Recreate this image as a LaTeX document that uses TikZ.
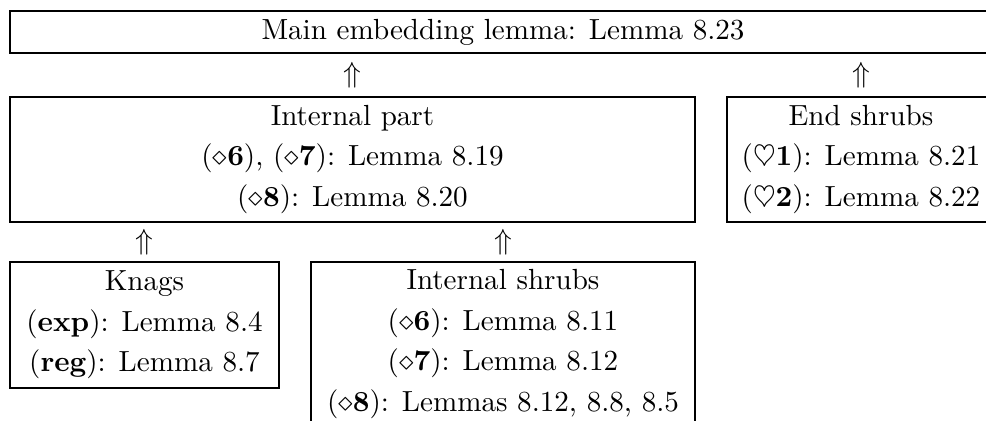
\documentclass[tikz,border=0pt]{standalone}
\usepackage{amsmath}
\usepackage{amssymb}
\usetikzlibrary{calc}
\newlength\pxu
\setlength\pxu{0.3436pt}
\tikzset{lembox/.style={draw, line width=0.95pt, align=center, inner sep=0pt, font=\fontsize{10}{13.9}\selectfont}}
\begin{document}
\begin{tikzpicture}[x=\pxu, y=-\pxu]
    \useasboundingbox (0,0) rectangle (986,421);
    % boxes
    \node[lembox, minimum width=986\pxu, minimum height=42\pxu] (mainlem) at (503,32) {Main embedding lemma: Lemma 8.23};
    \node[lembox, minimum width=685\pxu, minimum height=125\pxu] (intpart) at (352.5,159.5) {Internal part\\ $(\diamond\mathbf{6})$, $(\diamond\mathbf{7})$: Lemma 8.19\\ $(\diamond\mathbf{8})$: Lemma 8.20};
    \node[lembox, minimum width=268\pxu, minimum height=125\pxu] (endshr) at (861,159.5) {End shrubs\\ $(\heartsuit\mathbf{1})$: Lemma 8.21\\ $(\heartsuit\mathbf{2})$: Lemma 8.22};
    \node[lembox, minimum width=269\pxu, minimum height=126\pxu] (knags) at (144.5,325) {Knags\\ (\textbf{exp}): Lemma 8.4\\ (\textbf{reg}): Lemma 8.7};
    \node[lembox, minimum width=384\pxu, minimum height=164\pxu] (intshr) at (503,344) {Internal shrubs\\ $(\diamond\mathbf{6})$: Lemma 8.11\\ $(\diamond\mathbf{7})$: Lemma 8.12\\ $(\diamond\mathbf{8})$: Lemmas 8.12, 8.8, 8.5};
    % implications
    \node[inner sep=0pt] (upA) at ($(intpart.north)!0.5!(intpart.north |- mainlem.south)$) {$\Uparrow$};
    \node[inner sep=0pt] (upB) at ($(endshr.north)!0.5!(endshr.north |- mainlem.south)$) {$\Uparrow$};
    \node[inner sep=0pt] (upC) at ($(knags.north)!0.5!(knags.north |- intpart.south)$) {$\Uparrow$};
    \node[inner sep=0pt] (upD) at ($(intshr.north)!0.5!(intshr.north |- intpart.south)$) {$\Uparrow$};
\end{tikzpicture}
\end{document}
